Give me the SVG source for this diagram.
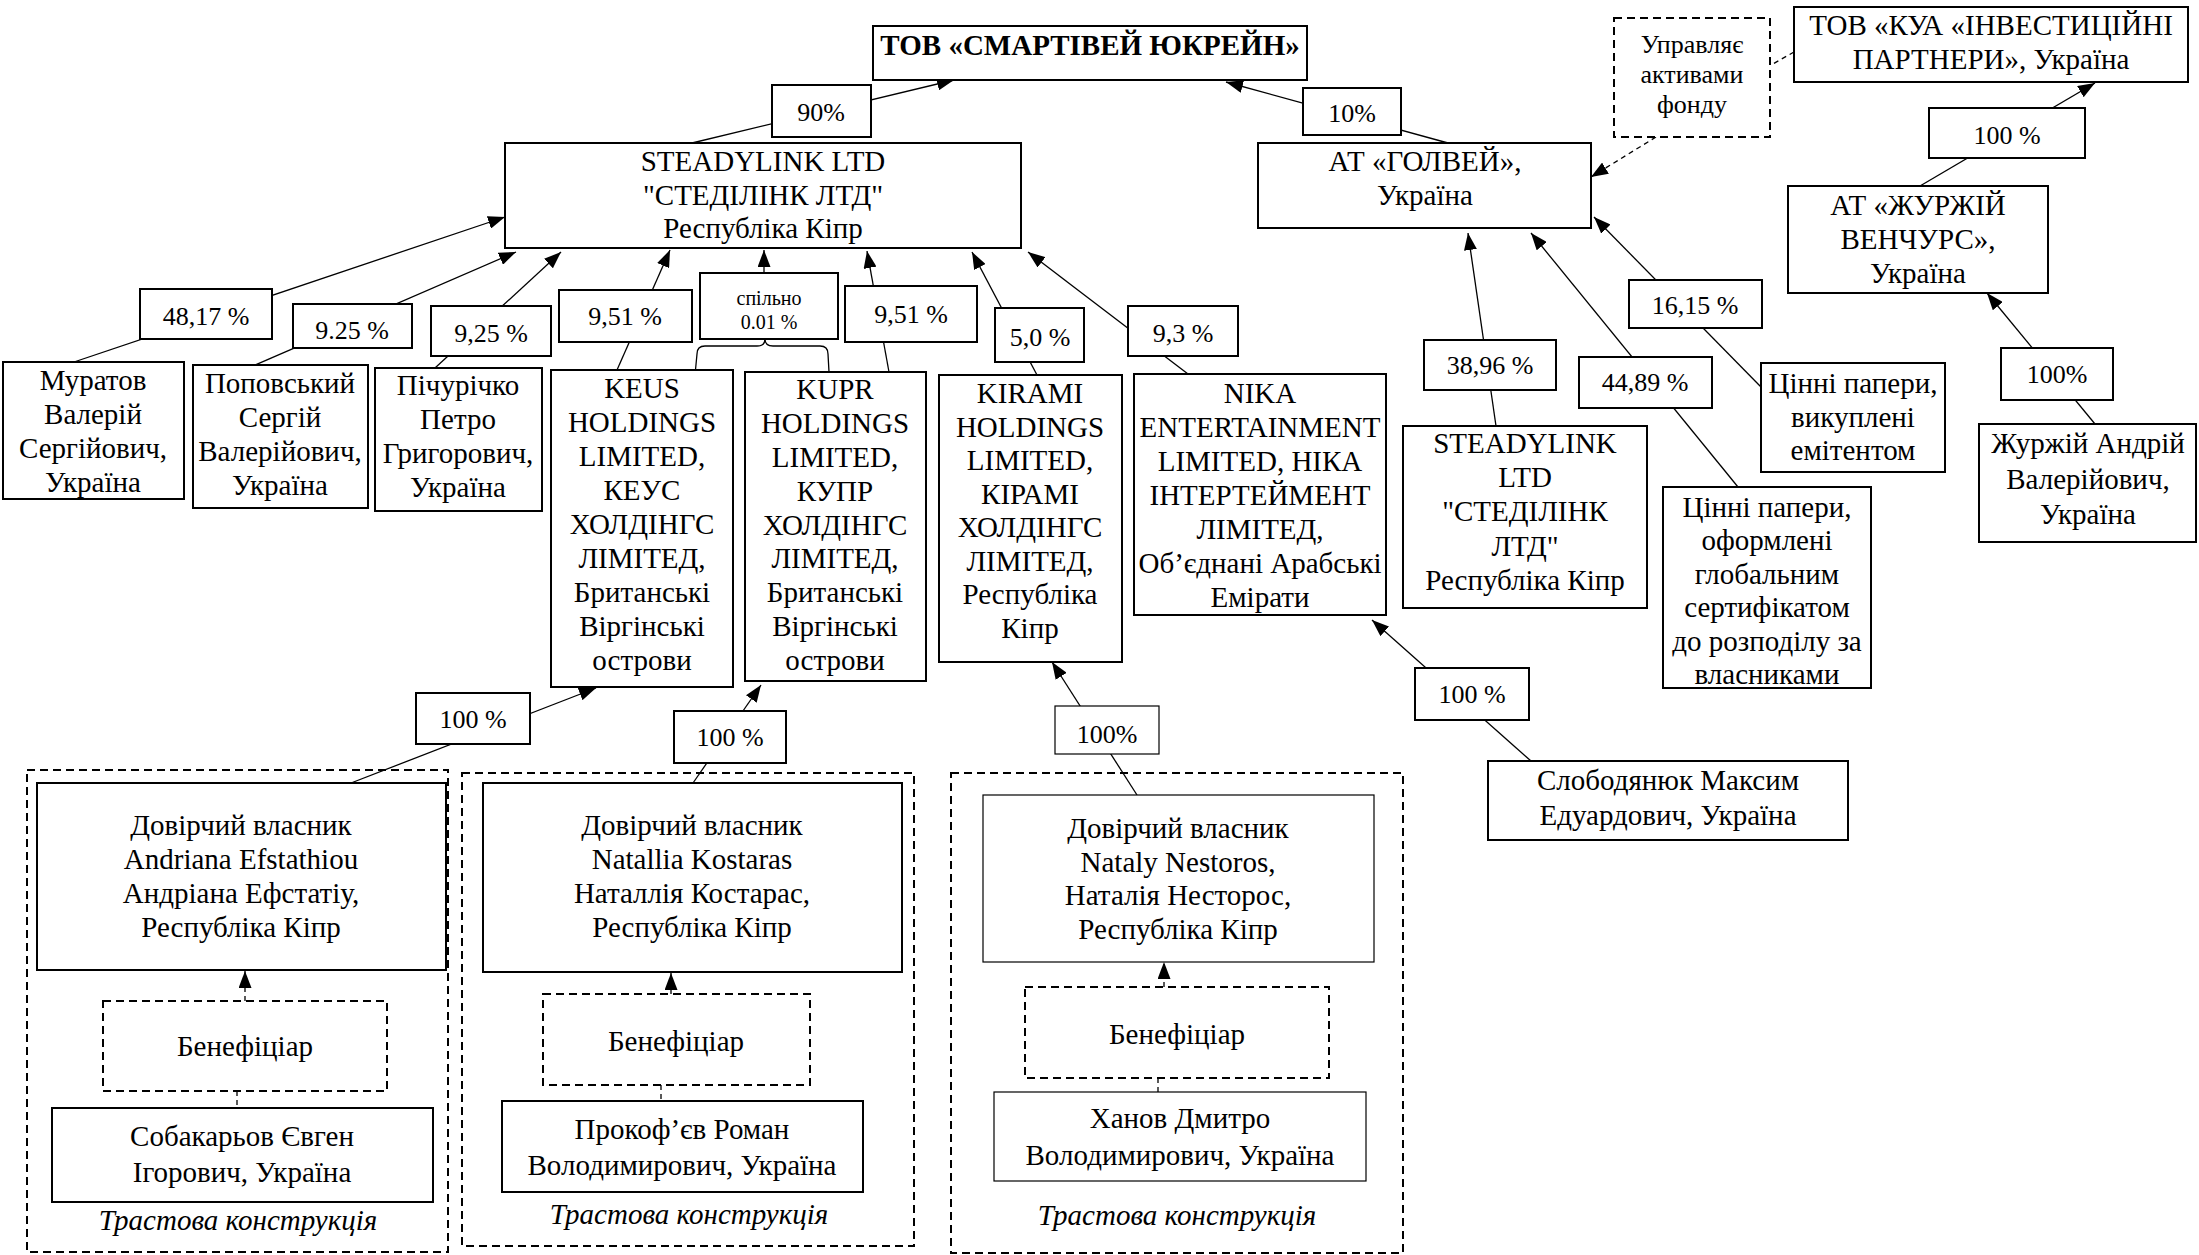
<svg xmlns="http://www.w3.org/2000/svg" width="2199" height="1255" viewBox="0 0 2199 1255">
<style>
text{font-family:"Liberation Serif","Times New Roman",serif;font-size:29px;text-anchor:middle;fill:#000}
.b{fill:#fff;stroke:#000;stroke-width:2}
.bt{fill:#fff;stroke:#000;stroke-width:1.2}
.d{fill:#fff;stroke:#000;stroke-width:2;stroke-dasharray:8 5}
.t{fill:none;stroke:#000;stroke-width:2;stroke-dasharray:8 5}
.c{fill:none;stroke:#000;stroke-width:1.3}
.cd{fill:none;stroke:#000;stroke-width:1.3;stroke-dasharray:5 4}
.p{font-size:26px}
.s{font-size:20px}
.m{font-size:26px}
.bold{font-weight:bold}
.i{font-style:italic}
</style>
<defs>
<marker id="a" markerUnits="userSpaceOnUse" markerWidth="17" markerHeight="13" viewBox="0 0 17 13" refX="17" refY="6.5" orient="auto"><path d="M0,0 L17,6.5 L0,13 z" fill="#000"/></marker>
</defs>
<rect width="2199" height="1255" fill="#fff"/>

<g id="trust-containers">
<g id="trust1"><rect class="t" x="27" y="770" width="421" height="482"/><text class="i" x="238" y="1230">Трастова конструкція</text></g>
<g id="trust2"><rect class="t" x="462" y="773" width="452" height="473"/><text class="i" x="689" y="1224">Трастова конструкція</text></g>
<g id="trust3"><rect class="t" x="951" y="773" width="452" height="480"/><text class="i" x="1177" y="1225">Трастова конструкція</text></g>
</g>

<g id="connectors">
<line class="c" x1="692" y1="143" x2="954" y2="80" marker-end="url(#a)"/>
<line class="c" x1="1448" y1="143" x2="1226" y2="82" marker-end="url(#a)"/>
<line class="c" x1="74" y1="362" x2="505" y2="217" marker-end="url(#a)"/>
<line class="c" x1="253" y1="366" x2="516" y2="252" marker-end="url(#a)"/>
<line class="c" x1="435" y1="368" x2="561" y2="252" marker-end="url(#a)"/>
<line class="c" x1="617" y1="370" x2="670" y2="250" marker-end="url(#a)"/>
<line class="c" x1="764" y1="273" x2="764" y2="250" marker-end="url(#a)"/>
<path class="c" d="M695,375 L697,354 Q697,346 705,346 L757,346 Q765,346 765,339 Q765,346 773,346 L820,346 Q828,346 828,354 L829,372"/>
<line class="c" x1="889" y1="372" x2="867" y2="251" marker-end="url(#a)"/>
<line class="c" x1="1037" y1="375" x2="972" y2="252" marker-end="url(#a)"/>
<line class="c" x1="1188" y1="374" x2="1028" y2="252" marker-end="url(#a)"/>
<line class="c" x1="1496" y1="426" x2="1468" y2="233" marker-end="url(#a)"/>
<line class="c" x1="1738" y1="487" x2="1531" y2="233" marker-end="url(#a)"/>
<line class="c" x1="1761" y1="387" x2="1594" y2="217" marker-end="url(#a)"/>
<line class="c" x1="1920" y1="186" x2="2095" y2="83" marker-end="url(#a)"/>
<line class="c" x1="2095" y1="424" x2="1987" y2="293" marker-end="url(#a)"/>
<line class="c" x1="1531" y1="761" x2="1372" y2="620" marker-end="url(#a)"/>
<line class="c" x1="351" y1="783" x2="596" y2="688" marker-end="url(#a)"/>
<line class="c" x1="693" y1="783" x2="761" y2="685" marker-end="url(#a)"/>
<line class="c" x1="1137" y1="795" x2="1052" y2="662" marker-end="url(#a)"/>
<line class="cd" x1="1656" y1="137" x2="1591" y2="177" marker-end="url(#a)"/>
<line class="cd" x1="1794" y1="52" x2="1771" y2="65"/>
<line class="cd" x1="245" y1="1001" x2="245" y2="971" marker-end="url(#a)"/>
<line class="cd" x1="237" y1="1091" x2="237" y2="1108"/>
<line class="cd" x1="671" y1="994" x2="671" y2="973" marker-end="url(#a)"/>
<line class="cd" x1="661" y1="1085" x2="661" y2="1101"/>
<line class="cd" x1="1164" y1="987" x2="1164" y2="962" marker-end="url(#a)"/>
<line class="cd" x1="1158" y1="1078" x2="1158" y2="1092"/>
</g>

<g id="n-smartway"><rect class="b" x="873" y="26" width="434" height="54"/><text class="bold" x="1090" y="55">ТОВ «СМАРТІВЕЙ ЮКРЕЙН»</text></g>
<g id="n-steadylink"><rect class="b" x="505" y="143" width="516" height="105"/><text x="763"><tspan x="763" y="171">STEADYLINK LTD</tspan><tspan x="763" y="205">"СТЕДІЛІНК ЛТД"</tspan><tspan x="763" y="238">Республіка Кіпр</tspan></text></g>
<g id="n-golvey"><rect class="b" x="1258" y="143" width="333" height="85"/><text x="1425"><tspan x="1425" y="171">АТ «ГОЛВЕЙ»,</tspan><tspan x="1425" y="205">Україна</tspan></text></g>
<g id="n-manages"><rect class="d" x="1614" y="18" width="156" height="119"/><text class="m" x="1692"><tspan x="1692" y="53">Управляє</tspan><tspan x="1692" y="83">активами</tspan><tspan x="1692" y="113">фонду</tspan></text></g>
<g id="n-kua"><rect class="b" x="1794" y="7" width="394" height="75"/><text x="1991"><tspan x="1991" y="35">ТОВ «КУА «ІНВЕСТИЦІЙНІ</tspan><tspan x="1991" y="69">ПАРТНЕРИ», Україна</tspan></text></g>
<g id="n-zhurzhiy-ventures"><rect class="b" x="1788" y="186" width="260" height="107"/><text x="1918"><tspan x="1918" y="215">АТ «ЖУРЖІЙ</tspan><tspan x="1918" y="249">ВЕНЧУРС»,</tspan><tspan x="1918" y="283">Україна</tspan></text></g>
<g id="n-muratov"><rect class="b" x="3" y="362" width="181" height="137"/><text x="93"><tspan x="93" y="390">Муратов</tspan><tspan x="93" y="424">Валерій</tspan><tspan x="93" y="458">Сергійович,</tspan><tspan x="93" y="492">Україна</tspan></text></g>
<g id="n-popovskyi"><rect class="b" x="193" y="365" width="175" height="143"/><text x="280"><tspan x="280" y="393">Поповський</tspan><tspan x="280" y="427">Сергій</tspan><tspan x="280" y="461">Валерійович,</tspan><tspan x="280" y="495">Україна</tspan></text></g>
<g id="n-pichurichko"><rect class="b" x="375" y="368" width="167" height="143"/><text x="458"><tspan x="458" y="395">Пічурічко</tspan><tspan x="458" y="429">Петро</tspan><tspan x="458" y="463">Григорович,</tspan><tspan x="458" y="497">Україна</tspan></text></g>
<g id="n-keus"><rect class="b" x="551" y="370" width="182" height="317"/><text x="642"><tspan x="642" y="398">KEUS</tspan><tspan x="642" y="432">HOLDINGS</tspan><tspan x="642" y="466">LIMITED,</tspan><tspan x="642" y="500">КЕУС</tspan><tspan x="642" y="534">ХОЛДІНГС</tspan><tspan x="642" y="568">ЛІМІТЕД,</tspan><tspan x="642" y="602">Британські</tspan><tspan x="642" y="636">Віргінські</tspan><tspan x="642" y="670">острови</tspan></text></g>
<g id="n-kupr"><rect class="b" x="745" y="372" width="181" height="309"/><text x="835"><tspan x="835" y="399">KUPR</tspan><tspan x="835" y="433">HOLDINGS</tspan><tspan x="835" y="467">LIMITED,</tspan><tspan x="835" y="501">КУПР</tspan><tspan x="835" y="535">ХОЛДІНГС</tspan><tspan x="835" y="568">ЛІМІТЕД,</tspan><tspan x="835" y="602">Британські</tspan><tspan x="835" y="636">Віргінські</tspan><tspan x="835" y="670">острови</tspan></text></g>
<g id="n-kirami"><rect class="b" x="939" y="375" width="183" height="287"/><text x="1030"><tspan x="1030" y="403">KIRAMI</tspan><tspan x="1030" y="437">HOLDINGS</tspan><tspan x="1030" y="470">LIMITED,</tspan><tspan x="1030" y="504">КІРАМІ</tspan><tspan x="1030" y="537">ХОЛДІНГС</tspan><tspan x="1030" y="571">ЛІМІТЕД,</tspan><tspan x="1030" y="604">Республіка</tspan><tspan x="1030" y="638">Кіпр</tspan></text></g>
<g id="n-nika"><rect class="b" x="1134" y="374" width="252" height="241"/><text x="1260"><tspan x="1260" y="403">NIKA</tspan><tspan x="1260" y="437">ENTERTAINMENT</tspan><tspan x="1260" y="471">LIMITED, НІКА</tspan><tspan x="1260" y="505">ІНТЕРТЕЙМЕНТ</tspan><tspan x="1260" y="539">ЛІМІТЕД,</tspan><tspan x="1260" y="573">Об’єднані Арабські</tspan><tspan x="1260" y="607">Емірати</tspan></text></g>
<g id="n-steadylink2"><rect class="b" x="1403" y="426" width="244" height="182"/><text x="1525"><tspan x="1525" y="453">STEADYLINK</tspan><tspan x="1525" y="487">LTD</tspan><tspan x="1525" y="521">"СТЕДІЛІНК</tspan><tspan x="1525" y="556">ЛТД"</tspan><tspan x="1525" y="590">Республіка Кіпр</tspan></text></g>
<g id="n-securities-global"><rect class="b" x="1663" y="487" width="208" height="201"/><text x="1767"><tspan x="1767" y="517">Цінні папери,</tspan><tspan x="1767" y="550">оформлені</tspan><tspan x="1767" y="584">глобальним</tspan><tspan x="1767" y="617">сертифікатом</tspan><tspan x="1767" y="651">до розподілу за</tspan><tspan x="1767" y="684">власниками</tspan></text></g>
<g id="n-securities-bought"><rect class="b" x="1761" y="363" width="184" height="109"/><text x="1853"><tspan x="1853" y="393">Цінні папери,</tspan><tspan x="1853" y="427">викуплені</tspan><tspan x="1853" y="460">емітентом</tspan></text></g>
<g id="n-zhurzhiy"><rect class="b" x="1979" y="424" width="217" height="118"/><text x="2088"><tspan x="2088" y="453">Журжій Андрій</tspan><tspan x="2088" y="489">Валерійович,</tspan><tspan x="2088" y="524">Україна</tspan></text></g>
<g id="n-slobodianiuk"><rect class="b" x="1488" y="761" width="360" height="79"/><text x="1668"><tspan x="1668" y="790">Слободянюк Максим</tspan><tspan x="1668" y="825">Едуардович, Україна</tspan></text></g>

<g id="n-trustee1"><rect class="b" x="37" y="783" width="409" height="187"/><text x="241"><tspan x="241" y="835">Довірчий власник</tspan><tspan x="241" y="869">Andriana Efstathiou</tspan><tspan x="241" y="903">Андріана Ефстатіу,</tspan><tspan x="241" y="937">Республіка Кіпр</tspan></text></g>
<g id="n-benef1"><rect class="d" x="103" y="1001" width="284" height="90"/><text x="245" y="1056">Бенефіціар</text></g>
<g id="n-sobakarov"><rect class="b" x="52" y="1108" width="381" height="94"/><text x="242"><tspan x="242" y="1146">Собакарьов Євген</tspan><tspan x="242" y="1182">Ігорович, Україна</tspan></text></g>

<g id="n-trustee2"><rect class="b" x="483" y="783" width="419" height="189"/><text x="692"><tspan x="692" y="835">Довірчий власник</tspan><tspan x="692" y="869">Natallia Kostaras</tspan><tspan x="692" y="903">Наталлія Костарас,</tspan><tspan x="692" y="937">Республіка Кіпр</tspan></text></g>
<g id="n-benef2"><rect class="d" x="543" y="994" width="267" height="91"/><text x="676" y="1051">Бенефіціар</text></g>
<g id="n-prokofiev"><rect class="b" x="502" y="1101" width="361" height="91"/><text x="682"><tspan x="682" y="1139">Прокоф’єв Роман</tspan><tspan x="682" y="1175">Володимирович, Україна</tspan></text></g>

<g id="n-trustee3"><rect class="bt" x="983" y="795" width="391" height="167"/><text x="1178"><tspan x="1178" y="838">Довірчий власник</tspan><tspan x="1178" y="872">Nataly Nestoros,</tspan><tspan x="1178" y="905">Наталія Несторос,</tspan><tspan x="1178" y="939">Республіка Кіпр</tspan></text></g>
<g id="n-benef3"><rect class="d" x="1025" y="987" width="304" height="91"/><text x="1177" y="1044">Бенефіціар</text></g>
<g id="n-khanov"><rect class="bt" x="994" y="1092" width="372" height="89"/><text x="1180"><tspan x="1180" y="1128">Ханов Дмитро</tspan><tspan x="1180" y="1165">Володимирович, Україна</tspan></text></g>

<g id="labels">
<g id="l-90"><rect class="b" x="772" y="85" width="99" height="52"/><text class="p" x="821" y="121">90%</text></g>
<g id="l-10"><rect class="b" x="1303" y="88" width="98" height="47"/><text class="p" x="1352" y="122">10%</text></g>
<g id="l-4817"><rect class="b" x="140" y="289" width="132" height="50"/><text class="p" x="206" y="325">48,17 %</text></g>
<g id="l-925a"><rect class="b" x="293" y="304" width="119" height="44"/><text class="p" x="352" y="339">9.25 %</text></g>
<g id="l-925b"><rect class="b" x="431" y="306" width="120" height="50"/><text class="p" x="491" y="342">9,25 %</text></g>
<g id="l-951a"><rect class="b" x="559" y="290" width="133" height="52"/><text class="p" x="625" y="325">9,51 %</text></g>
<g id="l-joint"><rect class="b" x="700" y="273" width="138" height="66"/><text class="s" x="769"><tspan x="769" y="305">спільно</tspan><tspan x="769" y="329">0.01 %</tspan></text></g>
<g id="l-951b"><rect class="b" x="845" y="286" width="132" height="56"/><text class="p" x="911" y="323">9,51 %</text></g>
<g id="l-50"><rect class="b" x="995" y="308" width="89" height="54"/><text class="p" x="1040" y="346">5,0 %</text></g>
<g id="l-93"><rect class="b" x="1128" y="306" width="110" height="50"/><text class="p" x="1183" y="342">9,3 %</text></g>
<g id="l-3896"><rect class="b" x="1424" y="340" width="132" height="50"/><text class="p" x="1490" y="374">38,96 %</text></g>
<g id="l-4489"><rect class="b" x="1579" y="357" width="133" height="51"/><text class="p" x="1645" y="391">44,89 %</text></g>
<g id="l-1615"><rect class="b" x="1629" y="280" width="133" height="48"/><text class="p" x="1695" y="314">16,15 %</text></g>
<g id="l-100kua"><rect class="b" x="1929" y="108" width="156" height="50"/><text class="p" x="2007" y="144">100 %</text></g>
<g id="l-100zh"><rect class="b" x="2001" y="348" width="112" height="52"/><text class="p" x="2057" y="383">100%</text></g>
<g id="l-100sl"><rect class="b" x="1415" y="668" width="114" height="52"/><text class="p" x="1472" y="703">100 %</text></g>
<g id="l-100keus"><rect class="b" x="416" y="693" width="114" height="51"/><text class="p" x="473" y="728">100 %</text></g>
<g id="l-100kupr"><rect class="b" x="674" y="711" width="112" height="52"/><text class="p" x="730" y="746">100 %</text></g>
<g id="l-100kirami"><rect class="bt" x="1055" y="706" width="104" height="48"/><text class="p" x="1107" y="743">100%</text></g>
</g>
</svg>
